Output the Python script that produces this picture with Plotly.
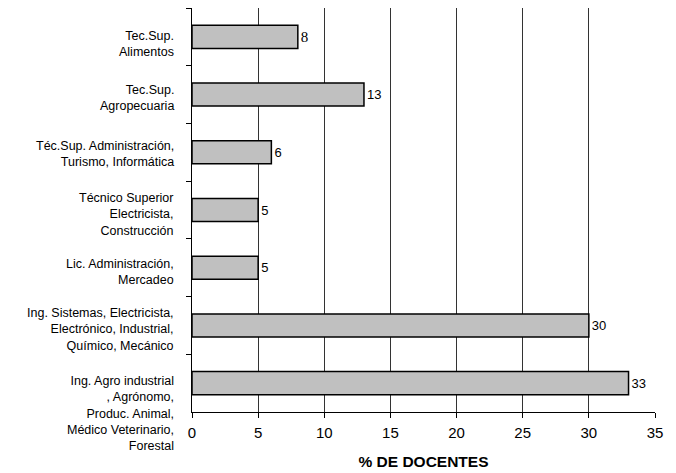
import plotly.graph_objects as go

# Carreras (top to bottom) and share of teaching staff, in %
carreras = [
    "Tec.Sup.<br>Alimentos",
    "Tec.Sup.<br>Agropecuaria",
    "Téc.Sup. Administración,<br>Turismo, Informática",
    "Técnico Superior<br>Electricista,<br>Construcción",
    "Lic. Administración,<br>Mercadeo",
    "Ing. Sistemas, Electricista,<br>Electrónico, Industrial,<br>Químico, Mecánico",
    "Ing. Agro industrial<br>, Agrónomo,<br>Produc. Animal,<br>Médico Veterinario,<br>Forestal",
]
porcentaje = [8, 13, 6, 5, 5, 30, 33]
x_ticks = [0, 5, 10, 15, 20, 25, 30, 35]

# Vertical nudge (px, downwards) of each category label relative to its bar
label_drop = [7, 3, 2, 4, 4, 4, 30]

value_fonts = ["Liberation Serif"] + ["Liberation Sans"] * (len(porcentaje) - 1)
value_sizes = [15] + [13] * (len(porcentaje) - 1)

fig = go.Figure(
    go.Bar(
        x=porcentaje,
        y=carreras,
        orientation="h",
        width=0.4,
        marker=dict(color="#c0c0c0", line=dict(color="#000000", width=1.5)),
        text=[str(v) for v in porcentaje],
        textposition="outside",
        textfont=dict(family=value_fonts, size=value_sizes, color="#000000"),
        cliponaxis=False,
    )
)

# Category names as right-aligned multi-line labels left of the axis
for name, drop in zip(carreras, label_drop):
    fig.add_annotation(
        x=0,
        xref="paper",
        y=name,
        yref="y",
        text=name,
        showarrow=False,
        xanchor="right",
        yanchor="middle",
        align="right",
        xshift=-16,
        yshift=-drop,
        font=dict(size=12.5, family="Liberation Sans, Arial, sans-serif", color="#000000"),
    )

fig.update_layout(
    width=676,
    height=473,
    margin=dict(l=192, r=21, t=8, b=61),
    paper_bgcolor="white",
    plot_bgcolor="white",
    showlegend=False,
    font=dict(family="Liberation Sans, Arial, sans-serif", color="#000000"),
    bargap=0.6,
)

fig.update_xaxes(
    range=[0, 35],
    automargin=False,
    tickvals=x_ticks,
    ticktext=[str(t) for t in x_ticks],
    tickfont=dict(size=15),
    ticklabelstandoff=2,
    showgrid=True,
    gridcolor="#333333",
    gridwidth=1,
    showline=True,
    linecolor="#000000",
    linewidth=1,
    ticks="outside",
    ticklen=5,
    tickcolor="#000000",
    zeroline=False,
    title=dict(text="<b>% DE DOCENTES</b>", font=dict(size=15.5), standoff=16),
)

fig.update_yaxes(
    autorange="reversed",
    categoryorder="array",
    categoryarray=carreras,
    showticklabels=False,
    showline=True,
    linecolor="#000000",
    linewidth=1,
    ticks="outside",
    tickson="boundaries",
    ticklen=5,
    tickcolor="#000000",
    showgrid=False,
    zeroline=False,
)

fig.write_html("out.html")
